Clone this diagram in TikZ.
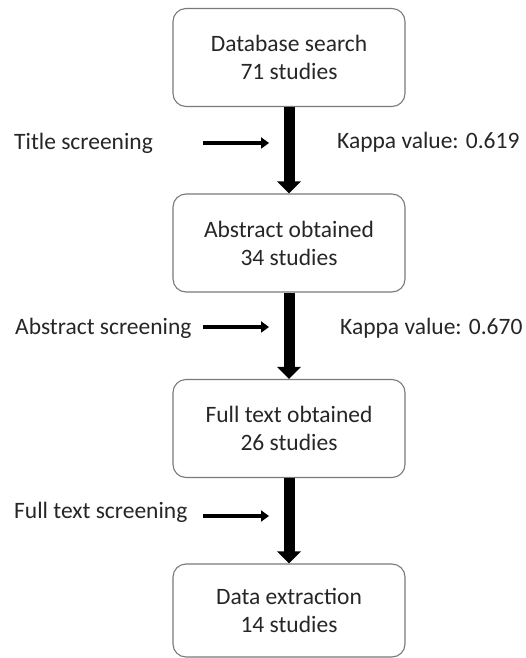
\documentclass[tikz,border=0pt]{standalone}
\usepackage{fontspec}
\setmainfont{Carlito}
\usetikzlibrary{arrows.meta}
\definecolor{ink}{HTML}{262626}
\definecolor{rim}{HTML}{7A7A7A}
\begin{document}
\begin{tikzpicture}[x=1pt,y=-1pt,
  stagebox/.style={draw=rim, line width=1.1pt, rounded corners=13pt,
    minimum width=232pt, minimum height=98pt, inner sep=0pt,
    align=center, text=ink, font=\fontsize{23.5}{28}\selectfont},
  sidetext/.style={anchor=base west, inner sep=0pt, text=ink,
    font=\fontsize{23.5}{28}\selectfont},
  flow/.style={line width=11pt, -{Triangle[width=23pt,length=12pt]}},
  screen/.style={line width=4.5pt, -{Triangle[width=11pt,length=8pt]}}]
  \useasboundingbox (0,0) rectangle (525,658);

  % main stages
  \node[stagebox] (b1) at (289,57.5) {Database search\\71 studies};
  \node[stagebox] (b2) at (289,243) {Abstract obtained\\34 studies};
  \node[stagebox] (b3) at (289,428.5) {Full text obtained\\26 studies};
  \node[stagebox, minimum height=93pt] (b4) at (289,610.5) {Data extraction\\14 studies};

  % flow between stages
  \draw[flow] (b1) -- (b2);
  \draw[flow] (b2) -- (b3);
  \draw[flow] (b3) -- (b4);

  % screening steps on the left
  \node[sidetext] (t1) at (14,149) {Title screening};
  \node[sidetext] (t2) at (15,334) {Abstract screening};
  \node[sidetext] (t3) at (14,518) {Full text screening};

  % agreement values on the right
  \node[sidetext] (k1) at (337,148) {Kappa value: 0.619};
  \node[sidetext] (k2) at (340,334) {Kappa value: 0.670};

  % short arrows pointing at the flow
  \coordinate (s1a) at (203,143);  \coordinate (s1b) at (269,143);
  \coordinate (s2a) at (203,327);  \coordinate (s2b) at (269,327);
  \coordinate (s3a) at (203,516);  \coordinate (s3b) at (269,516);
  \draw[screen] (s1a) -- (s1b);
  \draw[screen] (s2a) -- (s2b);
  \draw[screen] (s3a) -- (s3b);
\end{tikzpicture}
\end{document}
